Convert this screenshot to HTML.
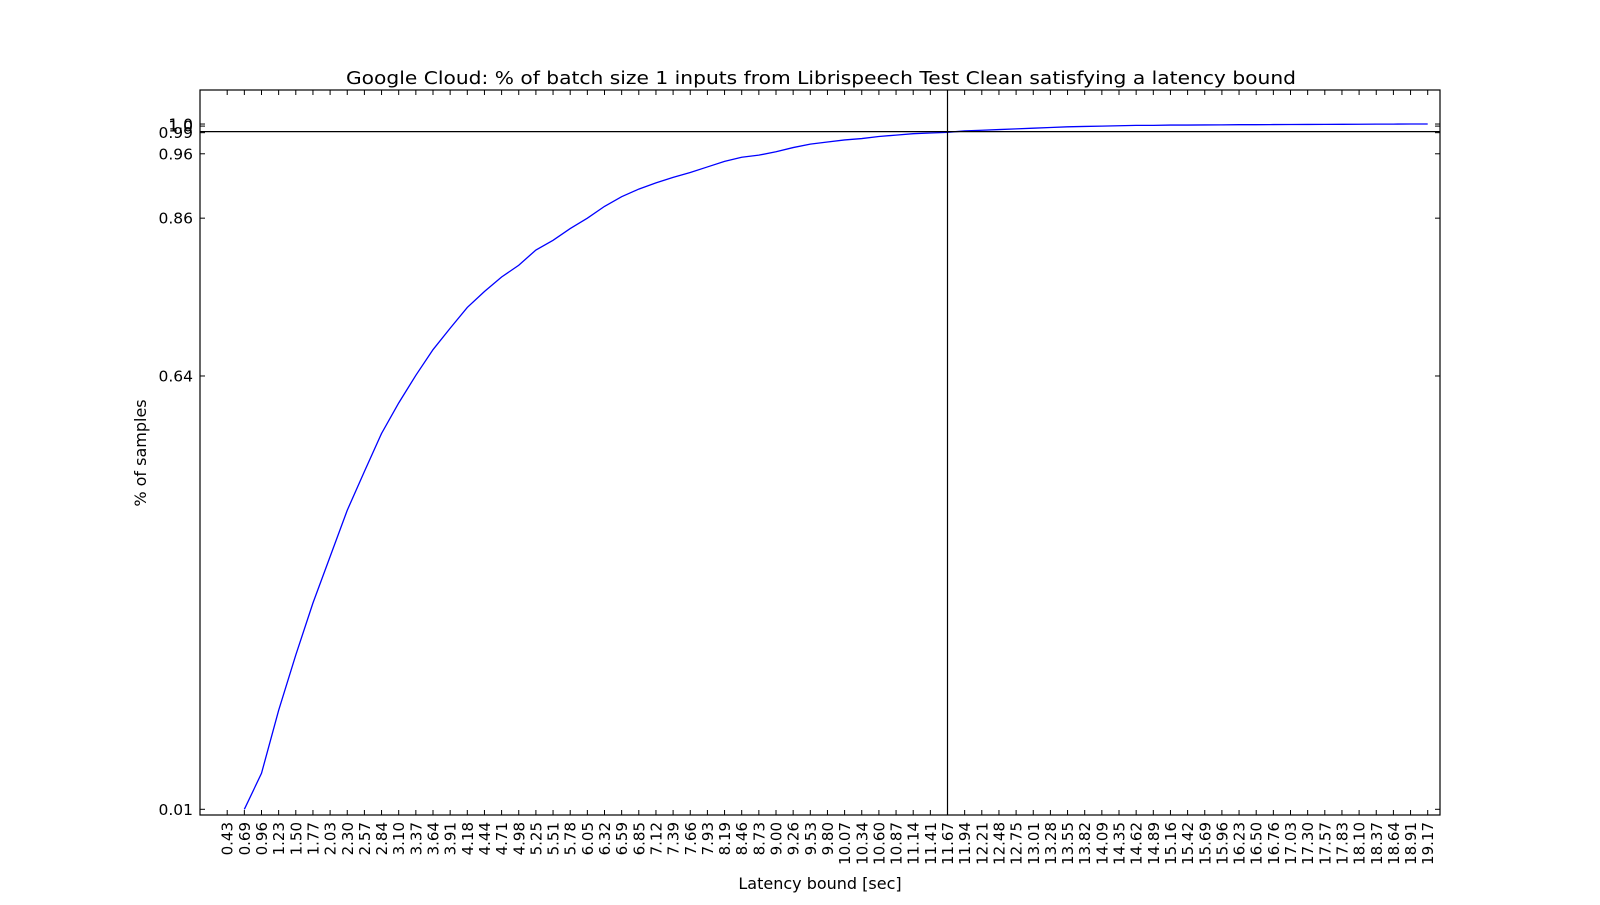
<!DOCTYPE html>
<html><head><meta charset="utf-8"><style>
html,body{margin:0;padding:0;background:#fff;}
svg{display:block;font-family:"DejaVu Sans","Liberation Sans",sans-serif;}
</style></head><body>
<svg id="chart" width="1600" height="905" viewBox="0 0 1600 905" xmlns="http://www.w3.org/2000/svg">
<rect x="0" y="0" width="1600" height="905" fill="#fff"/>
<text x="821" y="84" font-size="17.5" text-anchor="middle" textLength="950" lengthAdjust="spacingAndGlyphs">Google Cloud: % of batch size 1 inputs from Librispeech Test Clean satisfying a latency bound</text>
<text transform="translate(146,453) rotate(-90)" font-size="16" text-anchor="middle">% of samples</text>
<text x="820" y="889" font-size="16" text-anchor="middle">Latency bound [sec]</text>
<g id="plot"></g>
</svg>
<script>
const xLabels = ["0.43","0.69","0.96","1.23","1.50","1.77","2.03","2.30","2.57","2.84","3.10","3.37","3.64","3.91","4.18","4.44","4.71","4.98","5.25","5.51","5.78","6.05","6.32","6.59","6.85","7.12","7.39","7.66","7.93","8.19","8.46","8.73","9.00","9.26","9.53","9.80","10.07","10.34","10.60","10.87","11.14","11.41","11.67","11.94","12.21","12.48","12.75","13.01","13.28","13.55","13.82","14.09","14.35","14.62","14.89","15.16","15.42","15.69","15.96","16.23","16.50","16.76","17.03","17.30","17.57","17.83","18.10","18.37","18.64","18.91","19.17"];
const seriesIdx = [1,2,3,4,5,6,7,8,9,10,11,12,13,14,15,16,17,18,19,20,21,22,23,24,25,26,27,28,29,30,31,32,33,34,35,36,37,38,39,40,41,42,43,44,45,46,47,48,49,50,51,52,53,54,55,56,57,58,59,60,61,62,63,64,65,66,67,68,69,70];
const seriesValues = [0.01,0.062,0.153,0.233,0.308,0.375,0.442,0.498,0.553,0.597,0.637,0.674,0.705,0.735,0.758,0.779,0.796,0.818,0.832,0.849,0.864,0.881,0.895,0.906,0.915,0.923,0.930,0.938,0.946,0.952,0.955,0.960,0.966,0.971,0.974,0.977,0.979,0.982,0.984,0.986,0.987,0.988,0.990,0.991,0.992,0.993,0.994,0.995,0.996,0.9965,0.997,0.9975,0.998,0.998,0.9985,0.9985,0.9987,0.9988,0.999,0.999,0.9992,0.9993,0.9994,0.9995,0.9996,0.9997,0.9998,0.9999,1.0,1.0];
const yTickValues = [0.01,0.636,0.864,0.957,0.9875,0.997,1.0];
const yTickLabels = ["0.01","0.64","0.86","0.96","0.99","1.0","1.0"];
const hLineValue = 0.989;
const vLineIndex = 42;

const L=200,R=1440,T=90,B=815;
function xs(i){return 227.2+i*17.15;}
function ys(v){return 809.3-(v-0.01)*692.2;}
const NS="http://www.w3.org/2000/svg";
const g=document.getElementById('plot');
function mk(tag,attrs,parent){const e=document.createElementNS(NS,tag);for(const k in attrs)e.setAttribute(k,attrs[k]);(parent||g).appendChild(e);return e;}

const pts=seriesIdx.map((i,k)=>xs(i).toFixed(2)+','+ys(seriesValues[k]).toFixed(2)).join(' ');
const line=mk('polyline',{points:pts,fill:'none',stroke:'#0000ff','stroke-width':1.3});



const hl=mk('line',{x1:L,x2:R,y1:ys(hLineValue),y2:ys(hLineValue),stroke:'#000','stroke-width':1.2});


const vl=mk('line',{x1:xs(vLineIndex),x2:xs(vLineIndex),y1:T,y2:B,stroke:'#000','stroke-width':1.2});



xLabels.forEach((lab,i)=>{
  const x=xs(i);
  mk('line',{x1:x,x2:x,y1:B,y2:B-5,stroke:'#000','stroke-width':1});
  mk('line',{x1:x,x2:x,y1:T,y2:T+5,stroke:'#000','stroke-width':1});
  const t=mk('text',{transform:`translate(${(x+5.5).toFixed(2)},822) rotate(-90)`,'font-size':15,'text-anchor':'end'});
  t.textContent=lab;
  
  
});
yTickValues.forEach((v,k)=>{
  const y=ys(v);
  mk('line',{x1:L,x2:L+5,y1:y,y2:y,stroke:'#000','stroke-width':1});
  mk('line',{x1:R,x2:R-5,y1:y,y2:y,stroke:'#000','stroke-width':1});
  const t=mk('text',{x:193,y:(y+5.5).toFixed(2),'font-size':15.5,'text-anchor':'end'});
  t.textContent=yTickLabels[k];
  
  
});
const fr=mk('rect',{x:L,y:T,width:R-L,height:B-T,fill:'none',stroke:'#000','stroke-width':1.2});


</script>
</body></html>
